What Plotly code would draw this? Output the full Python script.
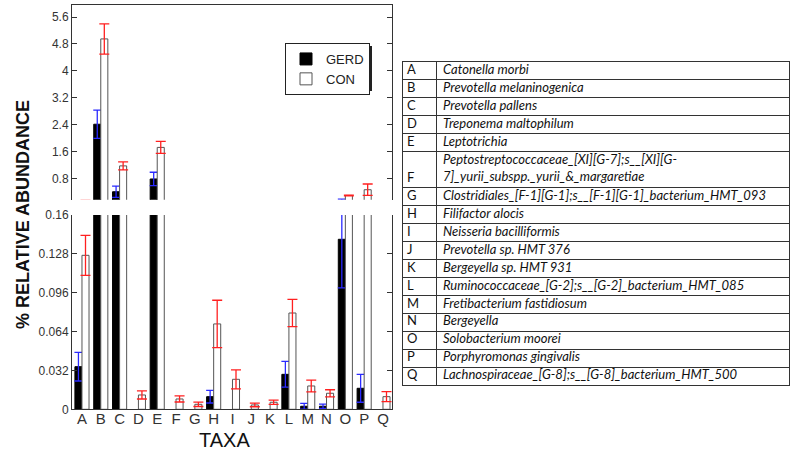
import plotly.graph_objects as go

taxa = list("ABCDEFGHIJKLMNOPQ")
gerd = [0.0351, 2.41, 0.40, None, 0.78, None, None, 0.0104, None, None, None,
        0.0288, 0.0025, 0.0025, 0.140, 0.0173, None]
gerd_err = [0.0118, 0.42, 0.17, None, 0.20, None, None, 0.0052, None, None, None,
            0.0106, 0.0023, 0.0017, 0.040, 0.0115, None]
con = [0.1268, 4.95, 1.17, 0.0118, 1.72, 0.0085, 0.0041, 0.0703, 0.0247, 0.0036, 0.0058,
       0.0793, 0.0192, 0.0132, 0.29, 0.46, 0.0104]
con_err = [0.0165, 0.45, 0.12, 0.0033, 0.18, 0.0025, 0.0018, 0.0195, 0.0078, 0.0015, 0.0018,
           0.0112, 0.0048, 0.0029, 0.012, 0.17, 0.0041]

top_ticks = [0.8, 1.6, 2.4, 3.2, 4.0, 4.8, 5.6]
top_ticktext = ["0.8", "1.6", "2.4", "3.2", "4", "4.8", "5.6"]
bot_ticks = [0, 0.032, 0.064, 0.096, 0.128, 0.16]
bot_ticktext = ["0", "0.032", "0.064", "0.096", "0.128", "0.16"]

table_letters = list("ABCDEFGHIJKLMNOPQ")
table_names = [
    "Catonella morbi",
    "Prevotella melaninogenica",
    "Prevotella pallens",
    "Treponema maltophilum",
    "Leptotrichia",
    "Peptostreptococcaceae_[XI][G-7];s__[XI][G-<br>7]_yurii_subspp._yurii_&amp;_margaretiae",
    "Clostridiales_[F-1][G-1];s__[F-1][G-1]_bacterium_HMT_093",
    "Filifactor alocis",
    "Neisseria bacilliformis",
    "Prevotella sp. HMT 376",
    "Bergeyella sp. HMT 931",
    "Ruminococcaceae_[G-2];s__[G-2]_bacterium_HMT_085",
    "Fretibacterium fastidiosum",
    "Bergeyella",
    "Solobacterium moorei",
    "Porphyromonas gingivalis",
    "Lachnospiraceae_[G-8];s__[G-8]_bacterium_HMT_500",
]

# table row layout derived from the number of text lines per row
row_lines = [n.count("<br>") + 1 for n in table_names]
bounds = [0]
for k in row_lines:
    bounds.append(bounds[-1] + k)
name_y = [bounds[i] + row_lines[i] / 2 for i in range(len(row_lines))]
letter_y = [bounds[i + 1] - 0.5 for i in range(len(row_lines))]
n_units = bounds[-1]

fig = go.Figure()

for xa, ya, show in [("x", "y", True), ("x2", "y2", False)]:
    fig.add_trace(go.Bar(
        x=taxa, y=gerd, name="GERD", xaxis=xa, yaxis=ya, showlegend=show,
        marker=dict(color="black", line=dict(color="black", width=1)),
        error_y=dict(type="data", array=gerd_err, visible=True, color="#2a2aff",
                     thickness=1.3, width=4),
        legendgroup="g",
    ))
    fig.add_trace(go.Bar(
        x=taxa, y=con, name="CON", xaxis=xa, yaxis=ya, showlegend=show,
        marker=dict(color="white", line=dict(color="#555555", width=1)),
        error_y=dict(type="data", array=con_err, visible=True, color="#ff2020",
                     thickness=1.3, width=5),
        legendgroup="c",
    ))

tfont = dict(family="Lato", size=13, color="#111111")
fig.add_trace(go.Scatter(
    x=[4] * len(table_letters), y=letter_y, text=table_letters, mode="text",
    textposition="middle right", textfont=tfont, xaxis="x3", yaxis="y3",
    showlegend=False, hoverinfo="skip",
))
fig.add_trace(go.Scatter(
    x=[40] * len(table_names), y=name_y, text=["<i>" + n + "</i>" for n in table_names],
    mode="text", textposition="middle right", textfont=tfont, xaxis="x3", yaxis="y3",
    showlegend=False, hoverinfo="skip",
))

axis_font = dict(family="Liberation Sans, Arial", size=12, color="#333333")

fig.update_layout(
    width=793, height=452,
    margin=dict(l=0, r=0, t=0, b=0, autoexpand=False),
    paper_bgcolor="white", plot_bgcolor="white",
    barmode="group", bargap=0.25, bargroupgap=0,
    font=dict(family="Liberation Sans, Arial", color="#222222"),
    xaxis=dict(domain=[72 / 793, 392 / 793], range=[-0.53, 16.48], anchor="y",
               showline=True, linecolor="#333333", linewidth=1, ticks="",
               tickmode="array", tickvals=taxa, ticktext=taxa, tickangle=0,
               ticklabelstandoff=-4,
               tickfont=dict(family="Liberation Sans, Arial", size=15, color="#333333"),
               showgrid=False, zeroline=False),
    xaxis2=dict(domain=[72 / 793, 392 / 793], range=[-0.53, 16.48], anchor="y2",
                matches="x", side="top", showline=True, linecolor="#333333", linewidth=1,
                ticks="", showticklabels=False, showgrid=False, zeroline=False),
    yaxis=dict(domain=[(452 - 409.3) / 452, (452 - 215) / 452], range=[0, 0.16], anchor="x",
               tickvals=bot_ticks, ticktext=bot_ticktext, ticks="inside", ticklen=5,
               tickcolor="#333333", showline=True, mirror="ticks", linecolor="#333333",
               linewidth=1, showgrid=False, zeroline=False, tickfont=axis_font),
    yaxis2=dict(domain=[(452 - 199.8) / 452, (452 - 5) / 452], range=[0.16, 5.96], anchor="x2",
                tickvals=top_ticks, ticktext=top_ticktext, ticks="inside", ticklen=5,
                tickcolor="#333333", showline=True, mirror="ticks", linecolor="#333333",
                linewidth=1, showgrid=False, zeroline=False, tickfont=axis_font),
    xaxis3=dict(domain=[403 / 793, 789 / 793], range=[0, 386], anchor="y3",
                tickvals=[33], showticklabels=False, ticks="", showgrid=True,
                gridcolor="#333333", gridwidth=1, showline=True, mirror=True,
                linecolor="#333333", linewidth=1, zeroline=False, fixedrange=True),
    yaxis3=dict(domain=[1 - 385 / 452, 1 - 62 / 452], range=[n_units, 0], anchor="x3",
                tickvals=bounds[1:-1], showticklabels=False, ticks="", showgrid=True,
                gridcolor="#333333", gridwidth=1, showline=True, mirror=True,
                linecolor="#333333", linewidth=1, zeroline=False, fixedrange=True),
    legend=dict(x=285 / 793, y=1 - 43 / 452, xanchor="left", yanchor="top",
                bgcolor="white", bordercolor="#222222", borderwidth=1,
                font=dict(family="Liberation Sans, Arial", size=13, color="#222222"),
                traceorder="normal", itemwidth=30, tracegroupgap=0),
    shapes=[dict(type="rect", xref="paper", yref="paper",
                 x0=288 / 793, x1=372 / 793, y0=1 - 91 / 452, y1=1 - 46 / 452,
                 fillcolor="#222222", line=dict(width=0), layer="below")],
    annotations=[
        dict(text="<b>% RELATIVE ABUNDANCE</b>", xref="paper", yref="paper",
             x=23 / 793, y=1 - 215 / 452, xanchor="center", yanchor="middle",
             textangle=-90, showarrow=False,
             font=dict(family="Liberation Sans, Arial", size=18, color="#111111")),
        dict(text="TAXA", xref="paper", yref="paper", x=224 / 793, y=1 - 440 / 452,
             xanchor="center", yanchor="middle", showarrow=False,
             font=dict(family="Liberation Sans, Arial", size=20, color="#111111")),
    ],
)

fig.write_html("out.html", config={"displayModeBar": False},
               post_script="document.body.style.margin='0';document.body.style.padding='0';")
